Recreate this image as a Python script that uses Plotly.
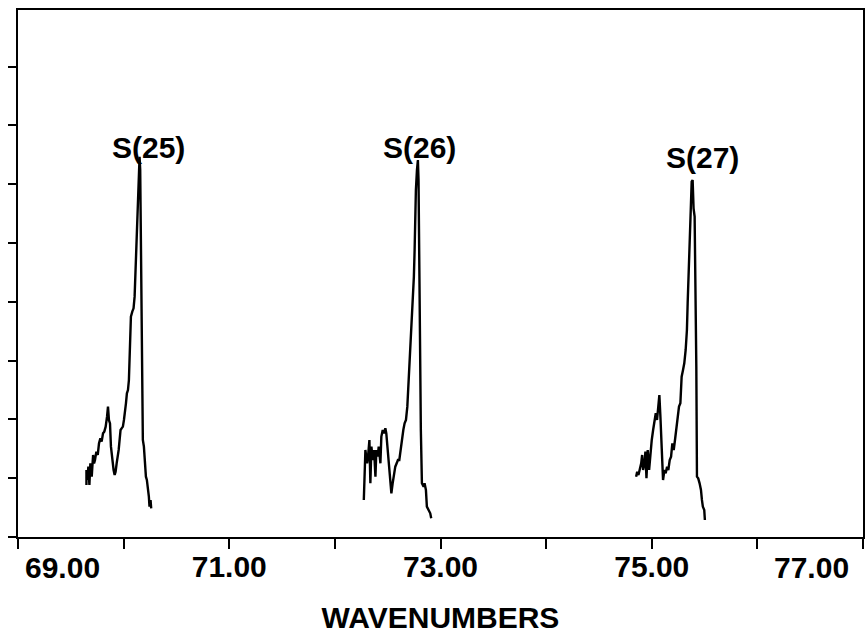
import plotly.graph_objects as go

# ---- data ----
s25_x = [69.648, 69.648, 69.657, 69.666, 69.676, 69.685, 69.698, 69.711, 69.720, 69.729,
         69.742, 69.755, 69.767, 69.780, 69.792, 69.805, 69.817, 69.830, 69.843, 69.852,
         69.861, 69.871, 69.880, 69.893, 69.905, 69.915, 69.924, 69.934, 69.943, 69.953,
         69.962, 69.971, 69.981, 69.993, 70.003, 70.012, 70.022, 70.031, 70.041, 70.050,
         70.056, 70.063, 70.069, 70.082, 70.094, 70.104, 70.113, 70.122, 70.132, 70.138,
         70.144, 70.151, 70.157, 70.163, 70.170, 70.176, 70.182, 70.192, 70.201, 70.211,
         70.220, 70.229, 70.239, 70.245, 70.255, 70.261]
s25_y = [0.885, 1.140, 0.970, 1.196, 0.885, 1.253, 1.026, 1.395, 1.253, 1.310,
         1.452, 1.395, 1.593, 1.678, 1.622, 1.763, 1.792, 1.877, 2.047, 2.217,
         1.990, 1.933, 1.537, 1.310, 1.140, 1.055, 1.111, 1.253, 1.338, 1.480,
         1.650, 1.820, 1.848, 1.877, 1.990, 2.103, 2.273, 2.444, 2.500, 2.670,
         2.954, 3.521, 3.747, 3.832, 3.889, 4.088, 4.541, 5.108, 5.618, 6.072,
         6.412, 6.468, 6.242, 5.221, 4.088, 2.954, 1.650, 1.537, 1.253, 1.026,
         0.970, 0.856, 0.686, 0.516, 0.629, 0.488]

s26_x = [72.274, 72.289, 72.305, 72.314, 72.327, 72.336, 72.346, 72.358, 72.371, 72.384,
         72.393, 72.406, 72.415, 72.431, 72.440, 72.453, 72.465, 72.478, 72.487, 72.497,
         72.509, 72.525, 72.535, 72.547, 72.560, 72.572, 72.585, 72.597, 72.610, 72.623,
         72.635, 72.648, 72.660, 72.673, 72.686, 72.698, 72.711, 72.723, 72.736, 72.748,
         72.755, 72.761, 72.767, 72.777, 72.786, 72.792, 72.796, 72.802, 72.808, 72.814,
         72.824, 72.840, 72.849, 72.862, 72.871, 72.887, 72.903, 72.912]
s26_y = [0.629, 1.480, 1.253, 1.367, 1.650, 0.913, 1.537, 1.310, 1.480, 1.026,
         1.480, 1.367, 1.537, 1.253, 1.707, 1.820, 1.763, 1.848, 1.763, 1.537,
         1.196, 0.913, 0.743, 0.913, 1.083, 1.196, 1.253, 1.310, 1.310, 1.480,
         1.707, 1.820, 1.933, 1.990, 2.217, 2.614, 3.067, 3.521, 3.974, 4.428,
         4.881, 5.448, 5.902, 6.242, 6.412, 6.072, 5.221, 4.088, 2.954, 1.820,
         0.913, 0.856, 0.913, 0.800, 0.516, 0.460, 0.403, 0.318]

s27_x = [74.852, 74.862, 74.874, 74.887, 74.900, 74.909, 74.918, 74.931, 74.940, 74.950,
         74.962, 74.975, 74.988, 75.000, 75.013, 75.025, 75.038, 75.050, 75.063, 75.072,
         75.082, 75.088, 75.098, 75.107, 75.120, 75.132, 75.145, 75.157, 75.170, 75.183,
         75.195, 75.208, 75.220, 75.233, 75.245, 75.258, 75.271, 75.283, 75.296, 75.308,
         75.321, 75.333, 75.340, 75.349, 75.359, 75.368, 75.378, 75.387, 75.396, 75.406,
         75.415, 75.422, 75.428, 75.440, 75.453, 75.466, 75.475, 75.484, 75.497, 75.503]
s27_y = [1.026, 1.112, 1.055, 1.140, 1.253, 1.395, 1.140, 1.253, 1.452, 0.998,
         1.480, 1.140, 1.452, 1.650, 1.820, 1.933, 2.104, 1.990, 2.217, 2.415,
         2.047, 1.820, 1.452, 0.970, 1.140, 1.083, 1.197, 1.140, 1.310, 1.367,
         1.593, 1.480, 1.650, 1.820, 2.047, 2.217, 2.274, 2.727, 2.841, 2.954,
         3.181, 3.521, 3.974, 4.541, 5.165, 5.732, 6.043, 6.072, 5.590, 5.448,
         4.314, 2.897, 1.026, 0.998, 0.913, 0.800, 0.630, 0.516, 0.460, 0.289]

peak_labels = ["S(25)", "S(26)", "S(27)"]
peak_label_x = [70.236, 72.802, 75.481]
peak_label_y = [6.63, 6.63, 6.45]

x_tick_vals = [69, 70, 71, 72, 73, 74, 75, 76, 77]
x_tick_text = ["", "", "71.00", "", "73.00", "", "75.00", "", ""]
end_tick_vals = [69, 77]
end_tick_text = ["69.00", "77.00"]
y_tick_vals = [0, 1, 2, 3, 4, 5, 6, 7, 8]

FONT = "Liberation Sans, Arial, sans-serif"

fig = go.Figure()
for xs, ys in [(s25_x, s25_y), (s26_x, s26_y), (s27_x, s27_y)]:
    fig.add_trace(go.Scatter(x=xs, y=ys, mode="lines",
                             line=dict(color="black", width=2.4),
                             showlegend=False, hoverinfo="skip"))

for t, x, y in zip(peak_labels, peak_label_x, peak_label_y):
    fig.add_annotation(x=x, y=y, text="<b>%s</b>" % t, showarrow=False, xanchor="center",
                       yanchor="middle", font=dict(family=FONT, size=30, color="black"))

for v, t, anchor, shift in zip(end_tick_vals, end_tick_text, ["left", "right"], [5, -12]):
    fig.add_annotation(x=v, y=0, xref="x", yref="paper", text="<b>%s</b>" % t,
                       showarrow=False, xanchor=anchor, yanchor="top", xshift=shift,
                       yshift=-12, font=dict(family=FONT, size=30, color="black"))

fig.update_layout(
    width=866, height=635,
    margin=dict(l=18, r=1, t=10, b=98),
    paper_bgcolor="white", plot_bgcolor="white",
    font=dict(family=FONT, color="black"),
)
fig.update_xaxes(
    range=[69, 77], showgrid=False, zeroline=False,
    showline=True, linecolor="black", linewidth=2, mirror=True,
    ticks="outside", ticklen=10, tickwidth=2, tickcolor="black",
    tickmode="array", tickvals=x_tick_vals,
    ticktext=["<b>%s</b>" % s if s else "" for s in x_tick_text],
    tickfont=dict(family=FONT, size=30, color="black"),
    ticklabelstandoff=-8,
    title=dict(text="<b>WAVENUMBERS</b>", font=dict(family=FONT, size=30, color="black"),
               standoff=25),
)
fig.update_yaxes(
    range=[0, 8.963], showgrid=False, zeroline=False,
    showline=True, linecolor="black", linewidth=2, mirror=True,
    ticks="outside", ticklen=8, tickwidth=2, tickcolor="black",
    tickmode="array", tickvals=y_tick_vals, showticklabels=False,
)

fig.write_html("out.html")
